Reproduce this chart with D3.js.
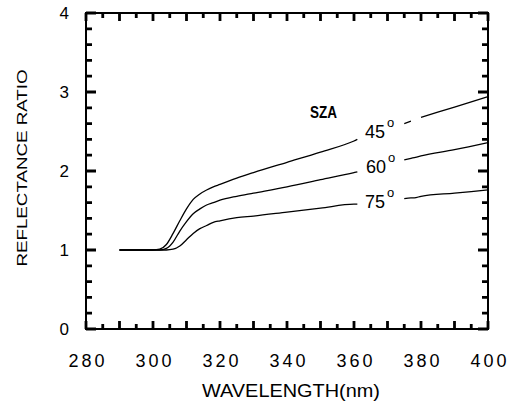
<!DOCTYPE html>
<html>
<head>
<meta charset="utf-8">
<script src="https://cdn.jsdelivr.net/npm/d3@7"></script>
<style>
  body { margin: 0; background: #fff; }
  svg text { font-family: "Liberation Sans", Arial, sans-serif; fill: #000; }
</style>
</head>
<body>
<div id="chart"></div>
<script>
// wavelength grid (nm), shared by all three curves
var wavelengths = [290, 295, 300, 302, 304, 306, 308, 310, 312, 314, 316, 318, 320, 325, 330, 340, 350, 360, 361, 368, 375, 377, 378, 380, 390, 400];

// reflectance ratio per solar zenith angle, null = gap in line (label area)
var sza45 = [1.00, 1.00, 1.00, 1.01, 1.07, 1.21, 1.37, 1.52, 1.64, 1.71, 1.76, 1.80, 1.83, 1.91, 1.98, 2.11, 2.24, 2.38, 2.40, null, 2.60, 2.63, null, 2.68, 2.81, 2.94];
var sza60 = [1.00, 1.00, 1.00, 1.00, 1.02, 1.10, 1.24, 1.36, 1.46, 1.52, 1.57, 1.60, 1.63, 1.68, 1.72, 1.80, 1.89, 1.98, 1.99, null, 2.14, 2.16, 2.17, 2.19, 2.27, 2.36];
var sza75 = [1.00, 1.00, 1.00, 1.00, 1.00, 1.01, 1.05, 1.13, 1.21, 1.27, 1.31, 1.35, 1.37, 1.41, 1.43, 1.48, 1.53, 1.58, 1.58, null, 1.65, 1.66, 1.66, 1.68, 1.72, 1.76];

var seriesNames = ['45', '60', '75'];
var seriesValues = [sza45, sza60, sza75];

var xTicks = [280, 300, 320, 340, 360, 380, 400];
var yTicks = [0, 1, 2, 3, 4];

var width = 509, height = 402;
var margin = {top: 13, right: 21, bottom: 73, left: 86};
var plotW = width - margin.left - margin.right;
var plotH = height - margin.top - margin.bottom;

var svg = d3.select('#chart').append('svg')
    .attr('width', width)
    .attr('height', height);

var g = svg.append('g')
    .attr('transform', 'translate(' + margin.left + ',' + margin.top + ')');

var xScale = d3.scaleLinear().domain([280, 400]).range([0, plotW]);
var yScale = d3.scaleLinear().domain([0, 4]).range([plotH, 0]);

// frame
g.append('rect')
    .attr('x', 0).attr('y', 0)
    .attr('width', plotW).attr('height', plotH)
    .attr('fill', 'none')
    .attr('stroke', '#000')
    .attr('stroke-width', 2);

// tick marks: major / minor, pointing inward on all four sides
var xMajor = d3.range(280, 401, 10);
var xMinor = d3.range(285, 400, 10);
var yMinor = d3.range(0, 4.01, 0.2).filter(function(v){ return Math.abs(v - Math.round(v)) > 0.01; });

var xTickMarks = xMajor.map(function(v){ return {v: v, len: 8}; })
    .concat(xMinor.map(function(v){ return {v: v, len: 5}; }));
var yTickMarks = yTicks.map(function(v){ return {v: v, len: 10}; })
    .concat(yMinor.map(function(v){ return {v: v, len: 6}; }));

// one path per side
function xTickPath(y0, dir){
    return xTickMarks.map(function(d){
        var x = xScale(d.v);
        return 'M' + x + ',' + y0 + 'V' + (y0 + dir * d.len);
    }).join('');
}
function yTickPath(x0, dir){
    return yTickMarks.map(function(d){
        var y = yScale(d.v);
        return 'M' + x0 + ',' + y + 'H' + (x0 + dir * d.len);
    }).join('');
}

var tickPaths = [xTickPath(plotH, -1), xTickPath(0, 1), yTickPath(0, 1), yTickPath(plotW, -1)];
tickPaths.forEach(function(p){
    g.append('path')
        .attr('d', p)
        .attr('stroke', '#000')
        .attr('stroke-width', 2.8)
        .attr('fill', 'none');
});

// axis labels (d3 axes, lines hidden)
var xAxis = g.append('g')
    .attr('transform', 'translate(0,' + plotH + ')')
    .call(d3.axisBottom(xScale).tickValues(xTicks).tickSize(0).tickPadding(25));
xAxis.select('.domain').remove();
xAxis.selectAll('text')
    .attr('font-size', 18)
    .attr('textLength', 36)
    .attr('lengthAdjust', 'spacing');

var yAxis = g.append('g')
    .call(d3.axisLeft(yScale).tickValues(yTicks).tickSize(0).tickPadding(17).tickFormat(d3.format('d')));
yAxis.select('.domain').remove();
yAxis.selectAll('text').attr('font-size', 17);

// curves
var line = d3.line()
    .defined(function(d){ return d[1] != null; })
    .curve(d3.curveMonotoneX)
    .x(function(d){ return xScale(d[0]); })
    .y(function(d){ return yScale(d[1]); });

seriesValues.forEach(function(vals, i){
    var pts = wavelengths.map(function(w, j){ return [w, vals[j]]; });
    g.append('path')
        .datum(pts)
        .attr('class', 'sza' + seriesNames[i])
        .attr('fill', 'none')
        .attr('stroke', '#000')
        .attr('stroke-width', 1.3)
        .attr('stroke-linejoin', 'round')
        .attr('d', line);
});

// curve labels
var labelPos = [[363.3, 2.42], [363.6, 1.975], [363.3, 1.53]];
seriesNames.forEach(function(name, i){
    var t = g.append('text')
        .attr('x', xScale(labelPos[i][0]))
        .attr('y', yScale(labelPos[i][1]))
        .attr('font-size', 18);
    t.append('tspan').text(name);
    t.append('tspan')
        .attr('dx', 2)
        .attr('dy', -11)
        .attr('font-size', 13)
        .text('o');
});

g.append('text')
    .attr('x', xScale(346.9))
    .attr('y', yScale(2.67))
    .attr('font-size', 16)
    .attr('font-weight', 'bold')
    .attr('textLength', 27)
    .attr('lengthAdjust', 'spacingAndGlyphs')
    .text('SZA');

// axis titles
svg.append('text')
    .attr('transform', 'translate(27,168) rotate(-90)')
    .attr('text-anchor', 'middle')
    .attr('font-size', 14)
    .attr('textLength', 197)
    .attr('lengthAdjust', 'spacingAndGlyphs')
    .text('REFLECTANCE RATIO');

svg.append('text')
    .attr('x', 291)
    .attr('y', 397)
    .attr('text-anchor', 'middle')
    .attr('font-size', 19)
    .attr('textLength', 178)
    .attr('lengthAdjust', 'spacingAndGlyphs')
    .text('WAVELENGTH(nm)');
</script>
</body>
</html>
